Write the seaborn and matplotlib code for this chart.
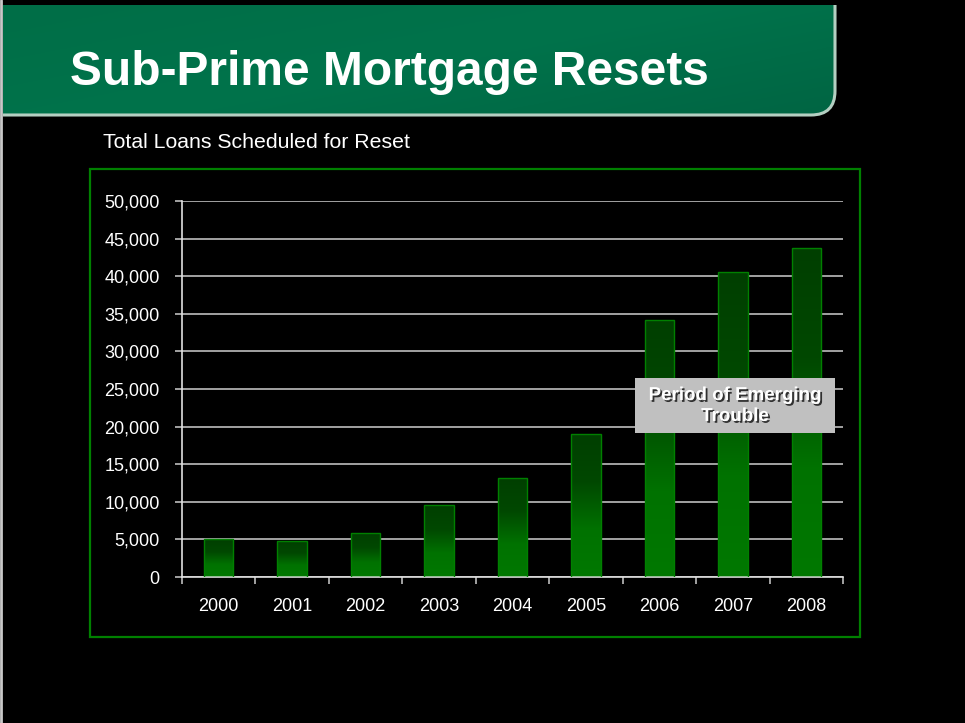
import numpy as np
import pandas as pd
import matplotlib
matplotlib.use("Agg")
import matplotlib.pyplot as plt
import matplotlib.patheffects as pe
from matplotlib.path import Path
from matplotlib.patches import PathPatch, Rectangle
from matplotlib.colors import LinearSegmentedColormap
from matplotlib.ticker import FuncFormatter, MultipleLocator
import seaborn as sns

# Loans scheduled for reset, by year
years = ["2000", "2001", "2002", "2003", "2004", "2005", "2006", "2007", "2008"]
loans = [5000, 4750, 5850, 9550, 13150, 19000, 34200, 40600, 43700]

title = "Sub-Prime Mortgage Resets"
subtitle = "Total Loans Scheduled for Reset"
note = "Period of Emerging\nTrouble"

sns.set_theme(style="dark")
plt.rcParams["font.family"] = ["Liberation Sans", "DejaVu Sans"]

W, H = 965, 723
fig = plt.figure(figsize=(W / 100, H / 100), dpi=100, facecolor="black")

# Background layer in pixel coordinates (y downwards)
bg = fig.add_axes([0, 0, 1, 1], zorder=0)
bg.set_xlim(0, W)
bg.set_ylim(H, 0)
bg.axis("off")
bg.set_facecolor("black")
bg.add_patch(Rectangle((0, 0), W, H, facecolor="black", edgecolor="none", zorder=0))
bg.plot([1, 1], [0, H], color="#c8c8c8", lw=2, zorder=1)

# Title banner with rounded lower-right corner
x0, x1, y0, y1, r = 3, 835, 5, 115, 24
verts = [(x0, y0), (x1, y0), (x1, y1 - r), (x1, y1), (x1 - r, y1), (x0, y1), (x0, y0)]
codes = [Path.MOVETO, Path.LINETO, Path.LINETO, Path.CURVE3, Path.CURVE3, Path.LINETO, Path.CLOSEPOLY]
banner = PathPatch(Path(verts, codes), facecolor="none", edgecolor="none", zorder=1)
bg.add_patch(banner)
banner_cmap = LinearSegmentedColormap.from_list("banner", ["#006e47", "#00734b", "#006543"])
gx, gy = np.meshgrid(np.linspace(0, 1, 200), np.linspace(0, 1, 40))
bimg = bg.imshow(0.6 * gx + 0.4 * gy, cmap=banner_cmap, extent=(x0, x1, y1, y0),
                 aspect="auto", zorder=1, interpolation="bicubic")
bimg.set_clip_path(banner)
# light rim along the right and bottom edge
rim = Path([(x1, y0), (x1, y1 - r), (x1, y1), (x1 - r, y1), (x0, y1)],
           [Path.MOVETO, Path.LINETO, Path.CURVE3, Path.CURVE3, Path.LINETO])
bg.add_patch(PathPatch(rim, facecolor="none", edgecolor="#b4cfc2", lw=2.2, zorder=2))

bg.text(70, 85, title, color="white", fontsize=34.5, fontweight="bold",
        ha="left", va="baseline", zorder=3)
bg.text(103, 148.5, subtitle, color="white", fontsize=15.3,
        ha="left", va="baseline", zorder=3)

# Chart frame
bg.add_patch(Rectangle((90, 169), 770, 468, facecolor="none", edgecolor="#008000",
                       lw=1.6, zorder=2))

# Main bar chart
ax = fig.add_axes([182 / W, 1 - 577 / H, (843 - 182) / W, (577 - 201) / H], zorder=2)
ax.set_facecolor("black")
df = pd.DataFrame({"year": years, "loans": loans})
sns.barplot(data=df, x="year", y="loans", color="#007800", width=0.4,
            edgecolor="#008000", linewidth=1.0, ax=ax, saturation=1)

ax.set_ylim(0, 50000)
ax.set_xlim(-0.5, len(years) - 0.5)
ax.set_xlabel("")
ax.set_ylabel("")
ax.set_axisbelow(True)

# Vertical gradient inside each bar: dark at the top, bright green lower down
bar_cmap = LinearSegmentedColormap.from_list("bar", ["#003f00", "#004800", "#007200", "#007800"])
grad = np.linspace(0, 1, 256).reshape(-1, 1)
for p in ax.patches:
    bx, by = p.get_x(), p.get_y()
    bw, bh = p.get_width(), p.get_height()
    im = ax.imshow(grad, cmap=bar_cmap, extent=(bx, bx + bw, by, by + bh),
                   aspect="auto", zorder=2, origin="upper", interpolation="bilinear")
    im.set_clip_path(p)
    p.set_facecolor("none")
    p.set_zorder(3)
ax.set_xlim(-0.5, len(years) - 0.5)
ax.set_ylim(0, 50000)

ax.yaxis.set_major_locator(MultipleLocator(5000))
ax.yaxis.set_major_formatter(FuncFormatter(lambda v, _: f"{int(v):,}"))
ax.grid(axis="y", color="#bdbdbd", lw=1.2)
ax.grid(axis="x", visible=False)

for side in ("top", "right"):
    ax.spines[side].set_visible(False)
for side in ("left", "bottom"):
    ax.spines[side].set_visible(True)
    ax.spines[side].set_color("#e0e0e0")
    ax.spines[side].set_linewidth(1.2)

ax.set_xticks(np.arange(-0.5, len(years), 1.0), minor=True)
ax.tick_params(axis="x", which="minor", length=5, width=1.2, color="#bdbdbd", bottom=True)
ax.tick_params(axis="x", which="major", length=0, pad=15, labelsize=13, labelcolor="white")
ax.tick_params(axis="y", which="major", length=5, width=1.2, color="#bdbdbd", left=True,
               pad=11, labelsize=13, labelcolor="white")

# Annotation box above the bars
box = Rectangle((635 / W, 1 - 433 / H), 200 / W, 55 / H, transform=fig.transFigure,
                facecolor="#c0c0c0", edgecolor="none", zorder=5)
fig.add_artist(box)
fig.text(735 / W, 1 - 406 / H, note, color="white", fontsize=13.5, fontweight="bold",
         ha="center", va="center", linespacing=1.3, zorder=6,
         path_effects=[pe.SimplePatchShadow(offset=(1.3, -1.3), shadow_rgbFace="#202020", alpha=0.9),
                       pe.Normal()])

fig.savefig("out.png", dpi=100, facecolor="black")
